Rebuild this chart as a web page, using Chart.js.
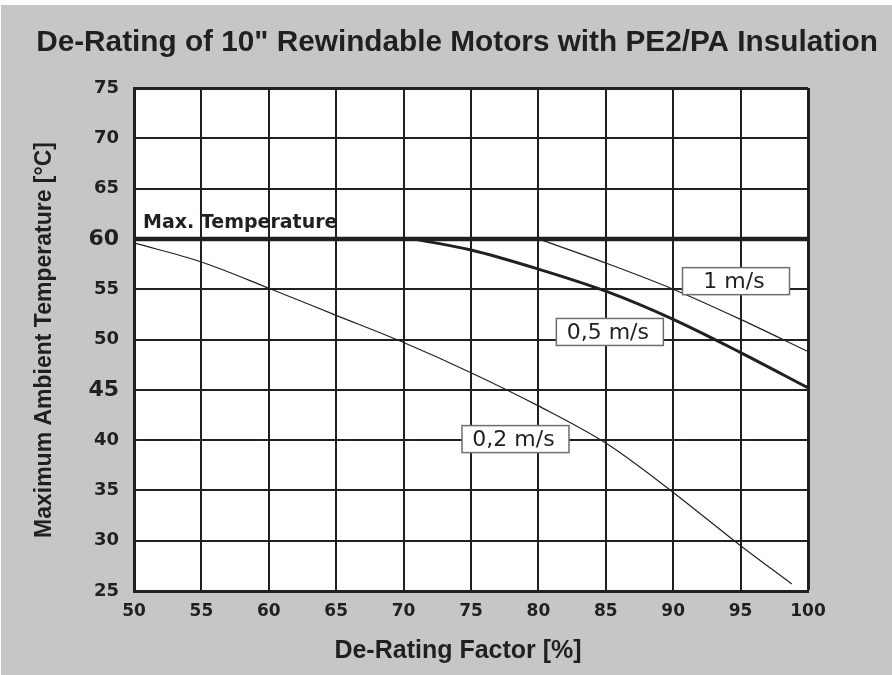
<!DOCTYPE html>
<html>
<head>
<meta charset="utf-8">
<script src="https://cdn.jsdelivr.net/npm/chart.js@4.4.1/dist/chart.umd.min.js"></script>
<style>
  html, body { margin: 0; padding: 0; background: #fff; }
  canvas { display: block; }
</style>
</head>
<body>
<canvas id="myChart" width="892" height="675"></canvas>
<script>
// de-rating factor [%] on x, max ambient temperature [°C] on y
var xTicks = [50, 55, 60, 65, 70, 75, 80, 85, 90, 95, 100];
var yTicks = [25, 30, 35, 40, 45, 50, 55, 60, 65, 70, 75];
var bigYTicks = [60, 45];

var maxTempX = [50, 100];
var maxTempY = [60, 60];

var flow1X = [80, 85, 90, 95, 100];
var flow1Y = [60, 57.6, 55.0, 52.0, 48.8];

var flow05X = [70.7, 75, 80, 85, 90, 95, 100];
var flow05Y = [60, 58.9, 57.0, 54.8, 52.0, 48.7, 45.2];

var flow02X = [50, 55, 60, 65, 70, 75, 80, 85, 90, 95, 98.8];
var flow02Y = [59.6, 57.7, 55.1, 52.4, 49.7, 46.7, 43.4, 39.7, 34.8, 29.5, 25.7];

var ink = '#231f20';
var chartTitle = 'De-Rating of 10" Rewindable Motors with PE2/PA Insulation';

function toPoints(xs, ys) {
  return xs.map(function (x, i) { return { x: x, y: ys[i] }; });
}

// boxed curve names, placed in data units
var curveLabels = [
  { text: '1 m/s', x: 94.66, y: 55.8 },
  { text: '0,5 m/s', x: 85.3, y: 50.75 },
  { text: '0,2 m/s', x: 78.3, y: 40.1 }
];

var frame = {
  id: 'frame',
  beforeDraw: function (chart) {
    var c = chart.ctx, a = chart.chartArea;
    c.save();
    c.fillStyle = '#fff';
    c.fillRect(0, 0, chart.width, chart.height);
    c.fillStyle = '#c5c6c8';
    c.fillRect(1, 5, chart.width - 1, chart.height - 5);
    c.fillStyle = '#fff';
    c.fillRect(a.left, a.top, a.right - a.left, a.bottom - a.top);

    c.fillStyle = ink;
    c.textAlign = 'center';
    c.textBaseline = 'alphabetic';
    c.font = 'bold 30px "Liberation Sans"';
    var size = 30 * 842 / c.measureText(chartTitle).width;
    c.font = 'bold ' + size.toFixed(2) + 'px "Liberation Sans"';
    c.fillText(chartTitle, 457, 51);

    c.font = 'bold 25px "Liberation Sans"';
    c.fillText('De-Rating Factor [%]', 458, 658);

    c.translate(51, 340);
    c.rotate(-Math.PI / 2);
    c.font = 'bold 23px "Liberation Sans"';
    c.fillText('Maximum Ambient Temperature [°C]', 0, 0);
    c.restore();
  },
  afterDatasetsDraw: function (chart) {
    var c = chart.ctx, xs = chart.scales.x, ys = chart.scales.y;
    c.save();
    c.fillStyle = ink;
    c.textAlign = 'left';
    c.textBaseline = 'alphabetic';
    c.font = 'bold 19px "DejaVu Sans"';
    c.fillText('Max. Temperature', xs.getPixelForValue(50) + 9, ys.getPixelForValue(60) - 11);

    c.font = '22px "DejaVu Sans"';
    c.textAlign = 'center';
    c.textBaseline = 'middle';
    curveLabels.forEach(function (l) {
      var px = xs.getPixelForValue(l.x), py = ys.getPixelForValue(l.y);
      c.fillStyle = '#fff';
      c.fillRect(px - 53.5, py - 13.5, 107, 27);
      c.strokeStyle = '#6d6e71';
      c.lineWidth = 1.5;
      c.strokeRect(px - 53.5, py - 13.5, 107, 27);
      c.fillStyle = ink;
      c.fillText(l.text, px - 2, py + 1);
    });
    c.restore();
  }
};

function line(label, xs, ys, width) {
  return {
    label: label,
    data: toPoints(xs, ys),
    showLine: true,
    borderColor: ink,
    backgroundColor: ink,
    borderWidth: width,
    pointRadius: 0,
    cubicInterpolationMode: 'monotone'
  };
}

var myChart = new Chart(document.getElementById('myChart'), {
  type: 'scatter',
  data: {
    datasets: [
      line('Max. Temperature', maxTempX, maxTempY, 4.5),
      line('1 m/s', flow1X, flow1Y, 1.2),
      line('0,5 m/s', flow05X, flow05Y, 3),
      line('0,2 m/s', flow02X, flow02Y, 1.2)
    ]
  },
  options: {
    responsive: false,
    animation: false,
    devicePixelRatio: 1,
    layout: { padding: { left: 0, top: 88, right: 84, bottom: 0 } },
    plugins: { legend: { display: false }, tooltip: { enabled: false } },
    scales: {
      x: {
        type: 'linear',
        min: 50, max: 100,
        afterBuildTicks: function (s) { s.ticks = xTicks.map(function (v) { return { value: v }; }); },
        afterFit: function (s) { s.height = 84; },
        grid: {
          color: ink, drawTicks: false,
          lineWidth: function (c) { return c.tick && c.tick.value === 100 ? 3 : 2; }
        },
        border: { color: ink, width: 3 },
        ticks: {
          color: ink, padding: 10, maxRotation: 0, autoSkip: false,
          font: { family: '"DejaVu Sans"', weight: 'bold', size: 17 }
        }
      },
      y: {
        type: 'linear',
        min: 25, max: 75,
        afterBuildTicks: function (s) { s.ticks = yTicks.map(function (v) { return { value: v }; }); },
        afterFit: function (s) { s.width = 134; },
        grid: {
          color: ink, drawTicks: false,
          lineWidth: function (c) { return c.tick && c.tick.value === 75 ? 3 : 2; }
        },
        border: { color: ink, width: 3 },
        ticks: {
          color: ink, padding: 15, autoSkip: false,
          font: function (c) {
            var big = c.tick && bigYTicks.indexOf(c.tick.value) >= 0;
            return { family: '"DejaVu Sans"', weight: 'bold', size: big ? 22 : 18 };
          }
        }
      }
    }
  },
  plugins: [frame]
});
</script>
</body>
</html>
